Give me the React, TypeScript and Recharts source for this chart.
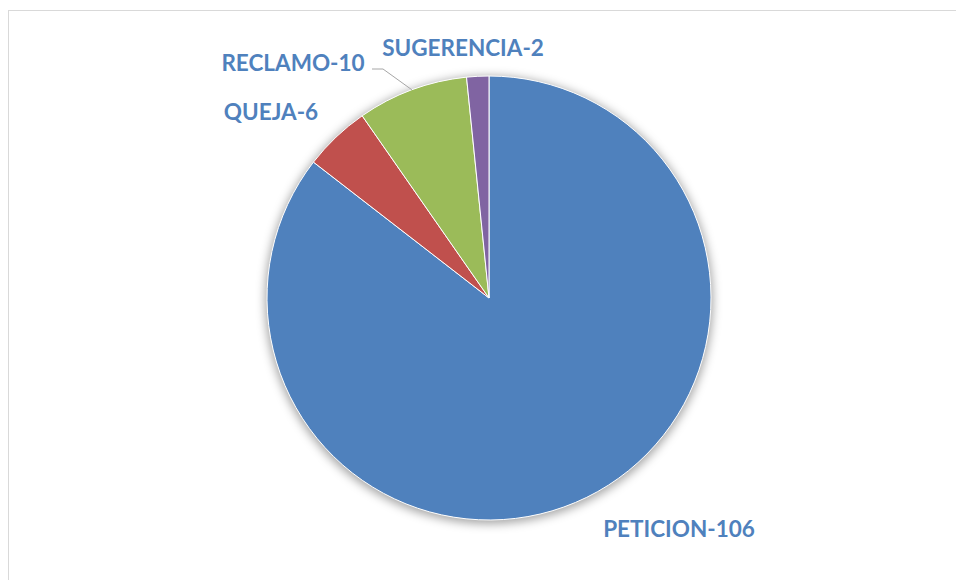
import { PieChart, Pie, Cell } from 'recharts';

const CATEGORIES = ['PETICION', 'QUEJA', 'RECLAMO', 'SUGERENCIA'];
const VALUES = [106, 6, 10, 2];
const COLORS = ['#4F81BD', '#C0504D', '#9BBB59', '#8064A2'];

// label centres relative to the pie centre (Excel "best fit" placement)
const LABEL_OFFSETS = [
  { dx: 190, dy: 230 },
  { dx: -218, dy: -187 },
  { dx: -196, dy: -236 },
  { dx: -26, dy: -251 },
];

const data = CATEGORIES.map((name, i) => ({ name, value: VALUES[i] }));
const RADIAN = Math.PI / 180;

function renderLabel(props: any) {
  const { cx, cy, midAngle, outerRadius, index, name, value } = props;
  const off = LABEL_OFFSETS[index];
  const x = cx + off.dx;
  const y = cy + off.dy;
  let leader = null;
  if (index === 2) {
    // RECLAMO has a leader line back to its slice
    const ex = cx + outerRadius * Math.cos(-midAngle * RADIAN);
    const ey = cy + outerRadius * Math.sin(-midAngle * RADIAN);
    const sx = cx - 117;
    const sy = cy - 229;
    leader = (
      <polyline
        points={`${sx},${sy} ${sx + 11},${sy} ${ex},${ey}`}
        fill="none"
        stroke="#A6A6A6"
        strokeWidth={1}
      />
    );
  }
  return (
    <g key={`label-${index}`}>
      {leader}
      <text
        x={x}
        y={y}
        textAnchor="middle"
        dominantBaseline="central"
        fill="#4F81BD"
        fontFamily="Lato, 'Open Sans', sans-serif"
        fontWeight={700}
        fontSize={22.5}
      >
        {`${name}-${value}`}
      </text>
    </g>
  );
}

export default function App() {
  return (
    <div style={{ position: 'absolute', left: 0, top: 0, width: 956, height: 580, overflow: 'hidden', background: '#fff' }}>
      <div
        style={{
          position: 'absolute',
          left: 8,
          top: 10,
          width: 980,
          height: 600,
          border: '1px solid #d9d9d9',
        }}
      />
      <div style={{ position: 'absolute', left: 0, top: 0 }}>
        <PieChart width={956} height={580} margin={{ top: 0, right: 0, bottom: 0, left: 0 }}>
          <defs>
            <filter id="pieShadow" x="-20%" y="-20%" width="140%" height="140%">
              <feGaussianBlur stdDeviation="5" />
            </filter>
          </defs>
          <Pie
            data={[{ name: 'shadow', value: 1 }]}
            dataKey="value"
            cx={489}
            cy={300}
            outerRadius={224}
            startAngle={90}
            endAngle={-270}
            stroke="none"
            isAnimationActive={false}
            label={false}
            labelLine={false}
          >
            <Cell fill="#000" fillOpacity={0.35} filter="url(#pieShadow)" />
          </Pie>
          <Pie
            data={data}
            dataKey="value"
            nameKey="name"
            cx={489}
            cy={298}
            outerRadius={222}
            startAngle={90}
            endAngle={-270}
            stroke="#fff"
            strokeWidth={1}
            isAnimationActive={false}
            label={renderLabel}
            labelLine={false}
          >
            {data.map((d, i) => (
              <Cell key={d.name} fill={COLORS[i % COLORS.length]} />
            ))}
          </Pie>
        </PieChart>
      </div>
    </div>
  );
}
